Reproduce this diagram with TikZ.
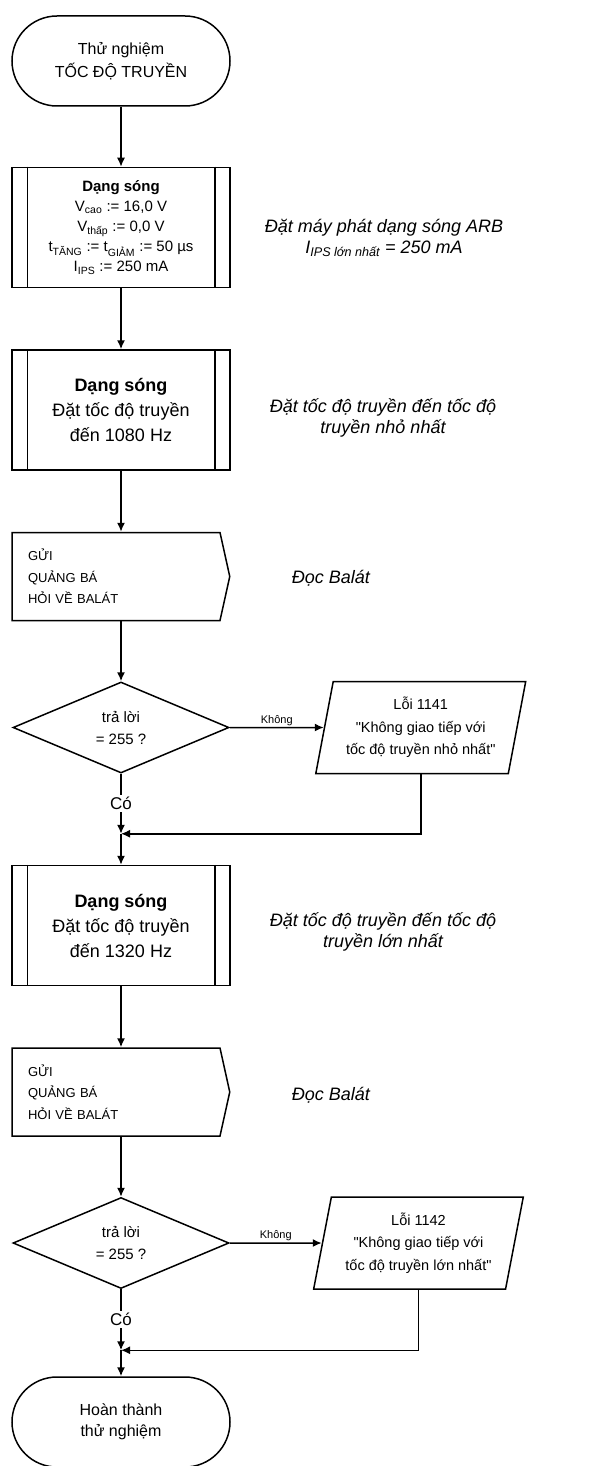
\documentclass[tikz,border=0pt]{standalone}
\usepackage{fontspec}
\setmainfont{Liberation Sans}
\usetikzlibrary{positioning, arrows.meta, shapes.geometric, shapes.symbols}

\begin{document}
\begin{tikzpicture}[
  x=1pt, y=1pt,
  terminal/.style={draw, line width=1.5pt, rounded corners=45pt, minimum width=218pt, minimum height=90pt, align=center, font=\fontsize{16}{23}\selectfont},
  subproc/.style={draw, line width=1.5pt, minimum width=218pt, minimum height=120pt, align=center, font=\fontsize{18}{25}\selectfont},
  sendbox/.style={draw, line width=1.5pt, signal, signal to=east, signal pointer angle=155, minimum height=88pt, inner xsep=16pt, text width=176pt, align=left, font=\fontsize{13}{21.5}\selectfont},
  decision/.style={draw, line width=1.5pt, diamond, aspect=2.4, minimum width=216pt, minimum height=91pt, inner sep=0pt, align=center, font=\fontsize{15}{22}\selectfont},
  errbox/.style={draw, line width=1.5pt, trapezium, trapezium left angle=77, trapezium right angle=103, trapezium stretches=true, minimum width=210pt, minimum height=92pt, align=center, font=\fontsize{14.5}{22.5}\selectfont},
  note/.style={align=center, font=\fontsize{18}{21}\selectfont\itshape},
  arrow/.style={-{Latex[length=9pt, width=8pt]}, line width=1.5pt},
]
  \useasboundingbox (0,0) rectangle (608,-1466);

  % Start
  \node[terminal] (start) at (121,-61) {Thử nghiệm\\TỐC ĐỘ TRUYỀN};

  % Waveform setup
  \node[subproc, below=60pt of start, font=\fontsize{15}{20}\selectfont] (box1) {
    {\bfseries Dạng sóng}\\
    V\textsubscript{cao} := 16,0 V\\
    V\textsubscript{thấp} := 0,0 V\\
    t\textsubscript{TĂNG} := t\textsubscript{GIẢM} := 50 µs\\
    I\textsubscript{IPS} := 250 mA
  };
  \node[note] (ann1) at (384,-238) {Đặt máy phát dạng sóng ARB\\I\textsubscript{IPS lớn nhất} = 250 mA};

  % Lowest baud rate
  \node[subproc, below=61pt of box1] (box2) {{\bfseries Dạng sóng}\\Đặt tốc độ truyền\\đến 1080 Hz};
  \node[note] (ann2) at (383,-418) {Đặt tốc độ truyền đến tốc độ\\truyền nhỏ nhất};

  \node[sendbox, below=61pt of box2, xshift=-5pt] (send1) {GỬI\\QUẢNG BÁ\\HỎI VỀ BALÁT};
  \node[note] (ann3) at (331,-578) {Đọc Balát};

  \node[decision, below=60pt of {send1.south -| box2}] (d1) {trả lời\\= 255 ?};
  \node[errbox, right=94pt of d1] (err1) {Lỗi 1141\\\textquotedbl Không giao tiếp với\\tốc độ truyền nhỏ nhất\textquotedbl};
  \coordinate[below=60pt of d1] (j1);

  % Highest baud rate
  \node[subproc, below=91pt of d1] (box3) {{\bfseries Dạng sóng}\\Đặt tốc độ truyền\\đến 1320 Hz};
  \node[note] (ann4) at (383,-932) {Đặt tốc độ truyền đến tốc độ\\truyền lớn nhất};

  \node[sendbox, below=61pt of box3, xshift=-5pt] (send2) {GỬI\\QUẢNG BÁ\\HỎI VỀ BALÁT};
  \node[note] (ann5) at (331,-1095) {Đọc Balát};

  \node[decision, below=60pt of {send2.south -| box3}] (d2) {trả lời\\= 255 ?};
  \node[errbox, right=92pt of d2] (err2) {Lỗi 1142\\\textquotedbl Không giao tiếp với\\tốc độ truyền lớn nhất\textquotedbl};
  \coordinate[below=61pt of d2] (j2);

  % End
  \node[terminal, below=87pt of d2, font=\fontsize{16}{21}\selectfont] (end) {Hoàn thành\\thử nghiệm};

  % Inner bars of the subprocess boxes
  \foreach \b in {box1, box2, box3} {
    \draw[line width=1.5pt] ([xshift=16pt]\b.north west) -- ([xshift=16pt]\b.south west);
    \draw[line width=1.5pt] ([xshift=-16pt]\b.north east) -- ([xshift=-16pt]\b.south east);
  }

  % Connectors
  \draw[arrow] (start) -- (box1);
  \draw[arrow] (box1) -- (box2);
  \draw[arrow] (box2) -- (box2 |- send1.north);
  \draw[arrow] (send1.south -| d1) -- (d1);
  \draw[arrow] (d1) -- node[above, inner sep=1pt, font=\fontsize{11}{12}\selectfont] {Không} (err1);
  \draw[arrow] (d1) -- node[fill=white, inner sep=2pt, font=\fontsize{17}{18}\selectfont] {Có} (j1);
  \draw[arrow] (err1.south) |- (j1);
  \draw[arrow] (j1) -- (box3);

  \draw[arrow] (box3) -- (box3 |- send2.north);
  \draw[arrow] (send2.south -| d2) -- (d2);
  \draw[arrow] (d2) -- node[above, inner sep=1pt, font=\fontsize{11}{12}\selectfont] {Không} (err2);
  \draw[arrow] (d2) -- node[fill=white, inner sep=2pt, font=\fontsize{17}{18}\selectfont] {Có} (j2);
  \draw[arrow] (err2.south) |- (j2);
  \draw[arrow] (j2) -- (end);

\end{tikzpicture}
\end{document}
